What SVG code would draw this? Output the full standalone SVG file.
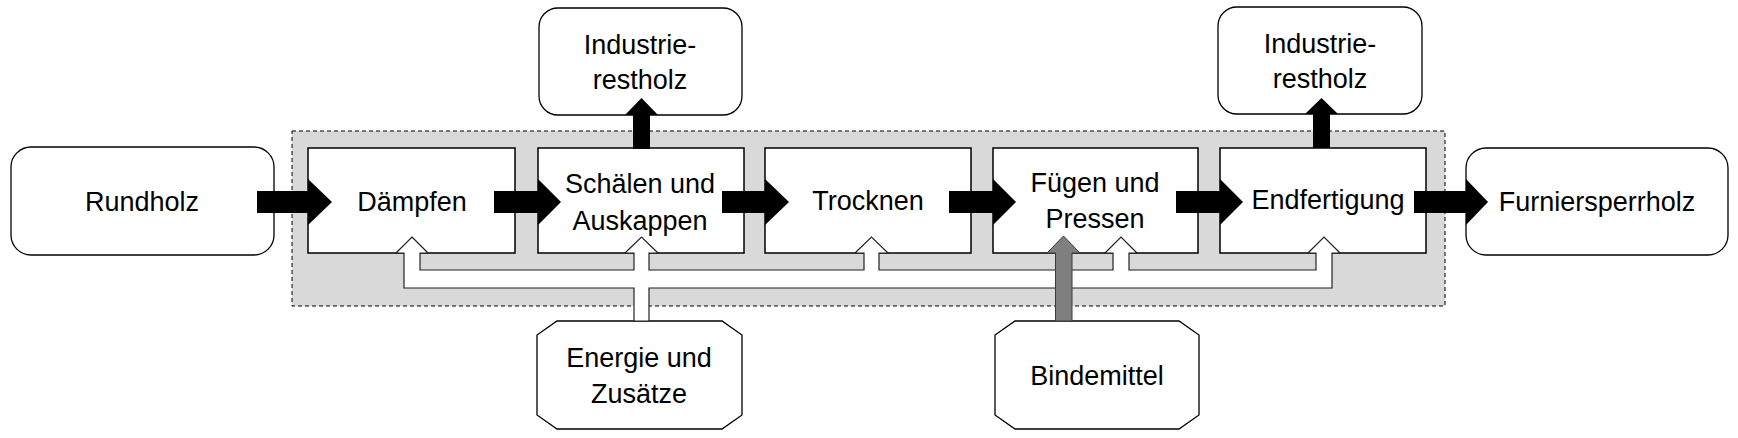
<svg xmlns="http://www.w3.org/2000/svg" width="1738" height="438" viewBox="0 0 1738 438">
<style>
text{font-family:"Liberation Sans",Arial,sans-serif;font-size:27px;fill:#000;text-anchor:middle}
.rr{fill:#fff;stroke:#000;stroke-width:1.3}
.pb{fill:#fff;stroke:#000;stroke-width:1.5}
.blk{fill:#000;stroke:none}
.pipe{fill:#fff;stroke:#222;stroke-width:1.2;stroke-linejoin:miter}
.gray{fill:#7f7f7f;stroke:#3a3a3a;stroke-width:1}
</style>
<rect id="system" x="292" y="131" width="1153" height="175" fill="#d9d9d9" stroke="#000" stroke-width="1" stroke-dasharray="4,3"/>
<g id="rundholz"><rect class="rr" x="11" y="147" width="263" height="108" rx="20"/><text x="142" y="211">Rundholz</text></g>
<g id="furniersperrholz"><rect class="rr" x="1466" y="148" width="262" height="107" rx="20"/><text x="1597" y="211">Furniersperrholz</text></g>
<g id="industrierestholz1"><rect class="rr" x="539" y="8" width="203" height="107" rx="19"/><text x="640" y="54">Industrie-</text><text x="640" y="89">restholz</text></g>
<g id="industrierestholz2"><rect class="rr" x="1218" y="7" width="204" height="107" rx="19"/><text x="1320" y="53">Industrie-</text><text x="1320" y="88">restholz</text></g>
<g id="daempfen"><rect class="pb" x="308" y="148" width="207" height="105"/><text x="412" y="211">Dämpfen</text></g>
<g id="schaelen"><rect class="pb" x="538" y="148" width="206" height="105"/><text x="640" y="193">Schälen und</text><text x="640" y="230">Auskappen</text></g>
<g id="trocknen"><rect class="pb" x="765" y="148" width="206" height="105"/><text x="868" y="210">Trocknen</text></g>
<g id="fuegen"><rect class="pb" x="993" y="148" width="205" height="105"/><text x="1095" y="192">Fügen und</text><text x="1095" y="228">Pressen</text></g>
<g id="endfertigung"><rect class="pb" x="1220" y="148" width="206" height="105"/><text x="1328" y="209">Endfertigung</text></g>
<g id="energie"><polygon class="rr" points="557,321 722,321 742,335 742,415 722,429 557,429 537,415 537,335"/><text x="639" y="367">Energie und</text><text x="639" y="403">Zusätze</text></g>
<g id="bindemittel"><polygon class="rr" points="1015,321 1179,321 1199,335 1199,415 1179,429 1015,429 995,415 995,335"/><text x="1097" y="385">Bindemittel</text></g>
<g id="connectors">
<polygon class="blk" points="257,191 308,191 308,179 332,202 308,225 308,213 257,213"/>
<polygon class="blk" points="494,191 538,191 538,179 561,202 538,225 538,213 494,213"/>
<polygon class="blk" points="722,191 765,191 765,179 789,202 765,225 765,213 722,213"/>
<polygon class="blk" points="949,191 993,191 993,179 1016,202 993,225 993,213 949,213"/>
<polygon class="blk" points="1176,191 1220,191 1220,179 1243,202 1220,225 1220,213 1176,213"/>
<polygon class="blk" points="1414,191 1466,191 1466,179 1488,202 1466,225 1466,213 1414,213"/>
<polygon class="blk" points="633,149 633,115 625,115 641.5,98 658,115 650,115 650,149"/>
<polygon class="blk" points="1313,148 1313,114 1305,114 1321.5,98 1338,114 1330,114 1330,148"/>
<path class="pipe" d="M412,237 L428,253 L420,253 L420,270 L634,270 L634,253 L625,253 L641.5,237 L658,253 L649,253 L649,270 L864,270 L864,253 L855,253 L871.5,237 L888,253 L879,253 L879,270 L1113,270 L1113,253 L1105,253 L1121,237 L1137,253 L1129,253 L1129,270 L1316,270 L1316,253 L1308,253 L1324,237 L1340,253 L1332,253 L1332,288 L649,288 L649,321 L634,321 L634,288 L404,288 L404,253 L396,253 Z"/>
<polygon class="gray" points="1055.5,321 1055.5,253 1047,253 1063.5,236 1080,253 1072,253 1072,321"/>
</g>
</svg>
